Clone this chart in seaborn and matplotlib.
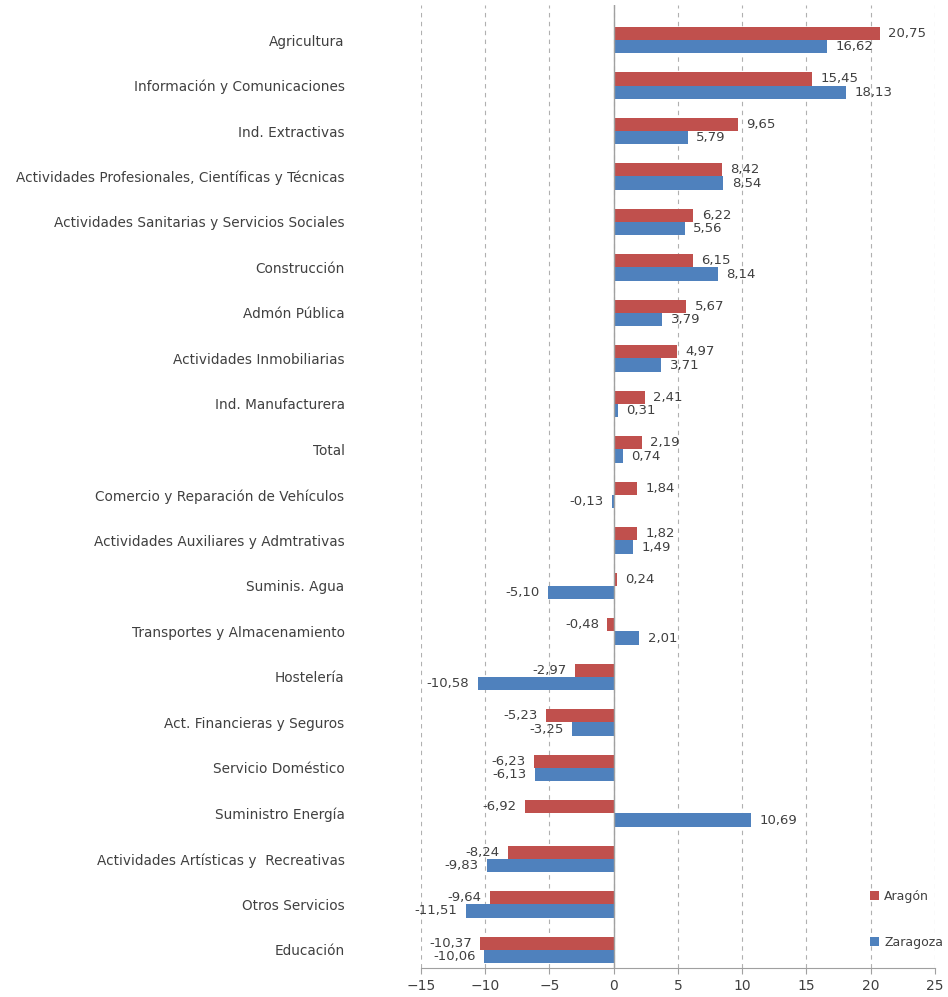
import pandas as pd
import matplotlib.pyplot as plt
import seaborn as sns

# Variación por sector, Aragón vs Zaragoza
sectores = [
    'Agricultura',
    'Información y Comunicaciones',
    'Ind. Extractivas',
    'Actividades Profesionales, Científicas y Técnicas',
    'Actividades Sanitarias y Servicios Sociales',
    'Construcción',
    'Admón Pública',
    'Actividades Inmobiliarias',
    'Ind. Manufacturera',
    'Total',
    'Comercio y Reparación de Vehículos',
    'Actividades Auxiliares y Admtrativas',
    'Suminis. Agua',
    'Transportes y Almacenamiento',
    'Hostelería',
    'Act. Financieras y Seguros',
    'Servicio Doméstico',
    'Suministro Energía',
    'Actividades Artísticas y  Recreativas',
    'Otros Servicios',
    'Educación',
]
aragon = [20.75, 15.45, 9.65, 8.42, 6.22, 6.15, 5.67, 4.97, 2.41, 2.19, 1.84, 1.82,
          0.24, -0.48, -2.97, -5.23, -6.23, -6.92, -8.24, -9.64, -10.37]
zaragoza = [16.62, 18.13, 5.79, 8.54, 5.56, 8.14, 3.79, 3.71, 0.31, 0.74, -0.13, 1.49,
            -5.10, 2.01, -10.58, -3.25, -6.13, 10.69, -9.83, -11.51, -10.06]
series = ['Aragón', 'Zaragoza']
colores = ['#C0504D', '#4F81BD']

df = pd.DataFrame({
    'sector': sectores * 2,
    'valor': aragon + zaragoza,
    'serie': [series[0]] * len(sectores) + [series[1]] * len(sectores),
})

fig = plt.figure(figsize=(9.48, 9.97), dpi=100)
ax = fig.add_axes([0.444, 0.029, 0.542, 0.966])

sns.barplot(data=df, y='sector', x='valor', hue='serie', orient='h',
            palette=colores, width=0.58, saturation=1, ax=ax, legend=True)

texto = '#404040'
for cont, vals in zip(ax.containers, [aragon, zaragoza]):
    etiquetas = [f'{v:.2f}'.replace('.', ',') for v in vals]
    ax.bar_label(cont, labels=etiquetas, padding=6, fontsize=9.5, color=texto)

ax.set_xlim(-15, 25)
ax.set_ylim(20.4, -0.77)
ax.set_xticks(range(-15, 26, 5))
ax.grid(axis='x', linestyle=(0, (4, 4)), color='#b0b0b0', linewidth=0.8)
ax.set_axisbelow(True)
ax.axvline(0, color='#a0a0a0', linewidth=1)

for lado in ['left', 'right', 'top']:
    ax.spines[lado].set_visible(False)
ax.spines['bottom'].set_color('#a0a0a0')

ax.tick_params(axis='y', length=0, pad=55, labelsize=9.8, labelcolor=texto)
ax.tick_params(axis='x', length=4, color='#a0a0a0', labelsize=10, labelcolor=texto)
ax.set_xlabel('')
ax.set_ylabel('')

ax.legend(loc='lower left', bbox_to_anchor=(0.865, 0.015), frameon=False,
          handlelength=0.7, handleheight=0.7, handletextpad=0.4,
          labelspacing=2.6, fontsize=9, labelcolor=texto, borderaxespad=0)

fig.savefig('out.png', dpi=100)
